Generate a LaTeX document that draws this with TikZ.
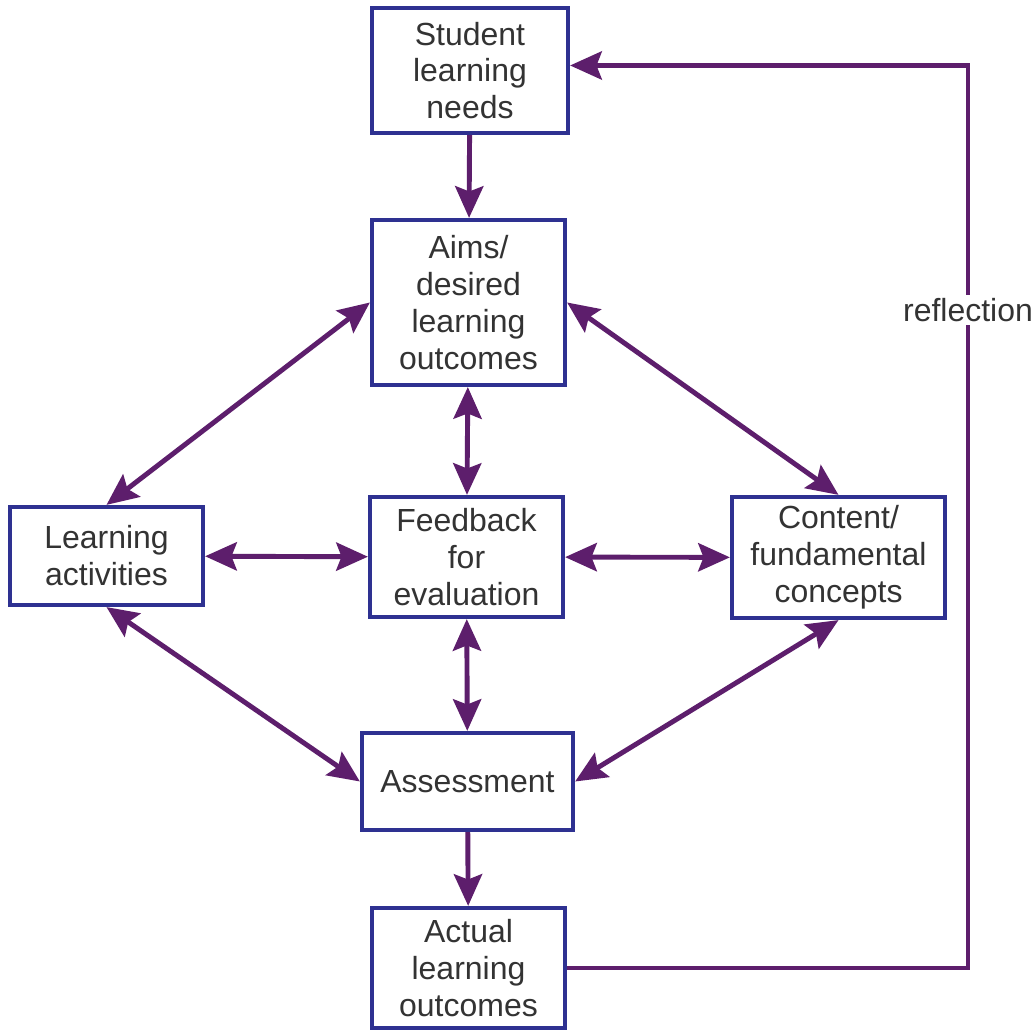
\documentclass[tikz,border=0pt]{standalone}
\usepackage{fontspec}
\setmainfont{Liberation Sans}
\usepackage{xcolor}
\usepackage{tikz}
\usetikzlibrary{arrows.meta,positioning,calc}
\definecolor{boxblue}{HTML}{2E3191}
\definecolor{arrowpurple}{HTML}{5D1E6C}
\definecolor{textgray}{HTML}{333333}

\begin{document}
\begin{tikzpicture}[>={Stealth[length=9pt,width=8pt,inset=1.5pt,fill=arrowpurple]}, line width=1.2pt]
	\tikzstyle{box}=[draw=boxblue,fill=white,line width=1.2pt,text=textgray,align=center,inner sep=0pt,font=\fontsize{9.1}{10.5}\selectfont]
	\tikzstyle{flow}=[color=arrowpurple,line width=1.4pt]
	\useasboundingbox[fill=white] (0,0) rectangle (10.34,10.34);
	\node[box,minimum width=1.96cm,minimum height=1.25cm]  (stud)   at (4.70,9.635)  {Student\\learning\\needs};
	\node[box,minimum width=1.93cm,minimum height=1.65cm]  (aims)   at (4.685,7.315) {Aims/\\desired\\learning\\outcomes};
	\node[box,minimum width=1.93cm,minimum height=0.98cm]  (act)    at (1.065,4.78)  {Learning\\activities};
	\node[box,minimum width=1.93cm,minimum height=1.20cm]  (feed)   at (4.665,4.77)  {Feedback\\for\\evaluation};
	\node[box,minimum width=2.13cm,minimum height=1.21cm]  (cont)   at (8.385,4.765) {Content/\\fundamental\\concepts};
	\node[box,minimum width=2.11cm,minimum height=0.97cm]  (ass)    at (4.675,2.525) {Assessment};
	\node[box,minimum width=1.93cm,minimum height=1.20cm]  (actual) at (4.685,0.66)  {Actual\\learning\\outcomes};
	\coordinate (rc) at (9.68,7.24);
	\path
	(stud)  edge[flow,->]  (aims)
	(aims.west) edge[flow,<->] (act.north)
	(aims.east) edge[flow,<->] (cont.north)
	(aims)  edge[flow,<->] (feed)
	(act)   edge[flow,<->] (feed)
	(feed)  edge[flow,<->] (cont)
	(feed)  edge[flow,<->] (ass)
	(act.south)  edge[flow,<->] (ass.west)
	(cont.south) edge[flow,<->] (ass.east)
	(ass)   edge[flow,->]  (actual);
	\draw[flow,->] (actual.east) -| (rc) |- ([yshift=0.05cm]stud.east);
	\node[fill=white,text=textgray,inner sep=1pt,font=\fontsize{9.1}{10.5}\selectfont] (refl) at (rc) {reflection};
\end{tikzpicture}
\end{document}
